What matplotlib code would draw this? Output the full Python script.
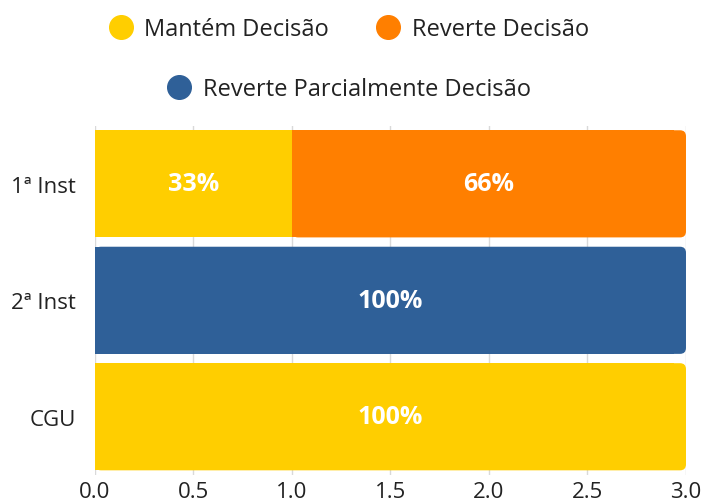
import matplotlib
matplotlib.use("Agg")
import matplotlib.pyplot as plt
from matplotlib.patches import FancyBboxPatch
from matplotlib.lines import Line2D
import numpy as np

categories = ["1ª Inst", "2ª Inst", "CGU"]
series_names = ["Mantém Decisão", "Reverte Decisão", "Reverte Parcialmente Decisão"]
mantem = [1, 0, 3]
reverte = [2, 0, 0]
reverte_parc = [0, 3, 0]
labels_mantem = ["33%", "", "100%"]
labels_reverte = ["66%", "", ""]
labels_parc = ["", "100%", ""]
xticks = [0.0, 0.5, 1.0, 1.5, 2.0, 2.5, 3.0]

colors = ["#FFCE00", "#FF7F00", "#2F6098"]

plt.rcParams['font.family'] = ['Open Sans', 'DejaVu Sans']
FS = 16

fig = plt.figure(figsize=(7.03, 5.02), dpi=100)
ax = fig.add_axes([0.1351, 0.0518, 0.8407, 0.696])

y = np.arange(len(categories))
height = 0.92
series = [mantem, reverte, reverte_parc]
labels = [labels_mantem, labels_reverte, labels_parc]

ax.set_xlim(0, 3)
ax.set_ylim(len(categories) - 0.5, -0.5)

# rounding sizes (approx 6 px) in data units
rx = 6 * 3 / 591
ry = 6 * 3 / 349.5

left = np.zeros(len(categories))
totals = np.sum(series, axis=0)
for s, vals in enumerate(series):
    vals = np.array(vals, dtype=float)
    for i in range(len(categories)):
        w = vals[i]
        if w <= 0:
            continue
        is_last = abs(left[i] + w - totals[i]) < 1e-9
        if is_last:
            ax.barh(y[i], w - 2 * rx, left=left[i], height=height, color=colors[s], zorder=2, linewidth=0)
            patch = FancyBboxPatch((left[i], y[i] - height / 2), w, height,
                                   boxstyle=f"round,pad=0,rounding_size={rx}",
                                   mutation_aspect=ry / rx,
                                   facecolor=colors[s], edgecolor='none', zorder=2)
            ax.add_patch(patch)
        else:
            ax.barh(y[i], w, left=left[i], height=height, color=colors[s], zorder=2, linewidth=0)
        if labels[s][i]:
            ax.text(left[i] + w / 2, y[i], labels[s][i], ha='center', va='center',
                    color='white', fontsize=18, fontweight='bold', zorder=3)
    left += vals

ax.set_yticks(y)
ax.set_yticklabels(categories, fontsize=FS, color='#222222')
ax.set_xticks(xticks)
ax.set_xticklabels([f"{t:.1f}" for t in xticks], fontsize=FS, color='#222222')
ax.tick_params(axis='both', length=0, pad=14)
ax.tick_params(axis='x', pad=4)
ax.grid(axis='x', color='#d9d9d9', linewidth=1, zorder=0)
ax.set_axisbelow(True)
for sp in ax.spines.values():
    sp.set_visible(False)

def handle(c):
    return Line2D([0], [0], marker='o', linestyle='none', markersize=17,
                  markerfacecolor=c, markeredgecolor=c)

LFS = 17
leg1 = fig.legend([handle(colors[0]), handle(colors[1])], series_names[:2],
                  loc='center', bbox_to_anchor=(0.496, 0.940), ncol=2, frameon=False,
                  fontsize=LFS, handletextpad=0.5, columnspacing=2.0, handlelength=1.0)
leg2 = fig.legend([handle(colors[2])], series_names[2:],
                  loc='center', bbox_to_anchor=(0.497, 0.821), ncol=1, frameon=False,
                  fontsize=LFS, handletextpad=0.5, handlelength=1.0)
for leg in (leg1, leg2):
    for t in leg.get_texts():
        t.set_color('#222222')

fig.savefig("out.png", dpi=100)
